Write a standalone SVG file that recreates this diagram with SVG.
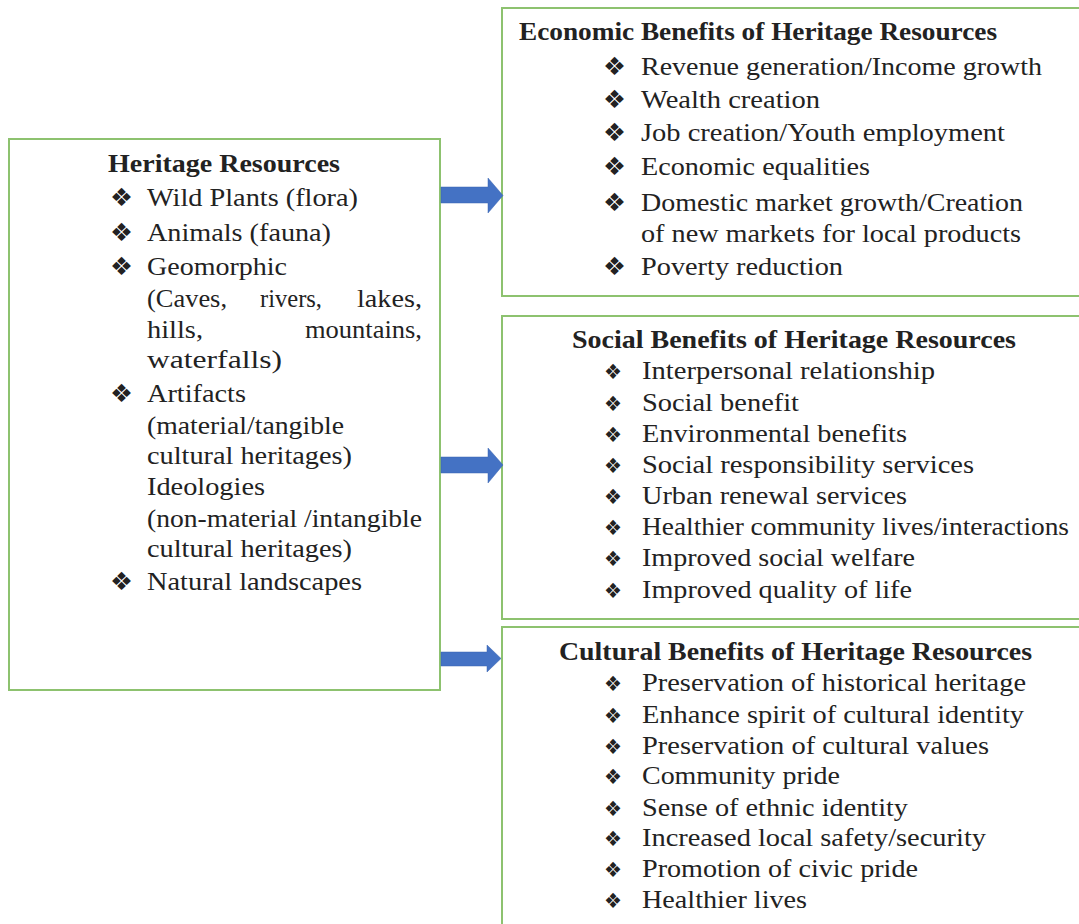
<svg xmlns="http://www.w3.org/2000/svg" width="1079" height="924" viewBox="0 0 1079 924">
<style>
.box{fill:#fff;stroke:#8DC26F;stroke-width:2}
.t{font-family:"Liberation Serif","Times New Roman",serif;font-size:25px;fill:#222}
.b{font-weight:bold}
.bl{font-family:"DejaVu Sans",sans-serif;font-size:25px;fill:#222}
.bs{font-family:"DejaVu Sans",sans-serif;font-size:21px;fill:#222}
.arr{fill:#4472C4;stroke:#3A64B0;stroke-width:0.5}
</style>
<rect width="1079" height="924" fill="#fff"/>
<g id="heritage-resources">
<rect class="box" x="9" y="139" width="431" height="551"/>
<text class="t b" x="108" y="172" textLength="232" lengthAdjust="spacingAndGlyphs">Heritage Resources</text>
<text class="bl" x="110" y="206" textLength="23" lengthAdjust="spacingAndGlyphs">❖</text>
<text class="t" x="147" y="206" textLength="211" lengthAdjust="spacingAndGlyphs">Wild Plants (flora)</text>
<text class="bl" x="110" y="241" textLength="23" lengthAdjust="spacingAndGlyphs">❖</text>
<text class="t" x="147" y="241" textLength="184" lengthAdjust="spacingAndGlyphs">Animals (fauna)</text>
<text class="bl" x="110" y="275" textLength="23" lengthAdjust="spacingAndGlyphs">❖</text>
<text class="t" x="147" y="275" textLength="140" lengthAdjust="spacingAndGlyphs">Geomorphic</text>
<text class="t" x="147" y="307" textLength="80" lengthAdjust="spacingAndGlyphs">(Caves,</text>
<text class="t" x="260" y="307" textLength="62" lengthAdjust="spacingAndGlyphs">rivers,</text>
<text class="t" x="357" y="307" textLength="65" lengthAdjust="spacingAndGlyphs">lakes,</text>
<text class="t" x="147" y="338" textLength="56" lengthAdjust="spacingAndGlyphs">hills,</text>
<text class="t" x="305" y="338" textLength="117" lengthAdjust="spacingAndGlyphs">mountains,</text>
<text class="t" x="147" y="368" textLength="135" lengthAdjust="spacingAndGlyphs">waterfalls)</text>
<text class="bl" x="110" y="402" textLength="23" lengthAdjust="spacingAndGlyphs">❖</text>
<text class="t" x="147" y="402" textLength="99" lengthAdjust="spacingAndGlyphs">Artifacts</text>
<text class="t" x="147" y="434" textLength="197" lengthAdjust="spacingAndGlyphs">(material/tangible</text>
<text class="t" x="147" y="464" textLength="205" lengthAdjust="spacingAndGlyphs">cultural heritages)</text>
<text class="t" x="147" y="495" textLength="118" lengthAdjust="spacingAndGlyphs">Ideologies</text>
<text class="t" x="147" y="527" textLength="275" lengthAdjust="spacingAndGlyphs">(non-material /intangible</text>
<text class="t" x="147" y="557" textLength="205" lengthAdjust="spacingAndGlyphs">cultural heritages)</text>
<text class="bl" x="110" y="590" textLength="23" lengthAdjust="spacingAndGlyphs">❖</text>
<text class="t" x="147" y="590" textLength="215" lengthAdjust="spacingAndGlyphs">Natural landscapes</text>
</g>
<g id="economic-benefits">
<rect class="box" x="502" y="8" width="600" height="288"/>
<text class="t b" x="519" y="40" textLength="478" lengthAdjust="spacingAndGlyphs">Economic Benefits of Heritage Resources</text>
<text class="bl" x="603" y="75" textLength="23" lengthAdjust="spacingAndGlyphs">❖</text>
<text class="t" x="641" y="75" textLength="401" lengthAdjust="spacingAndGlyphs">Revenue generation/Income growth</text>
<text class="bl" x="603" y="108" textLength="23" lengthAdjust="spacingAndGlyphs">❖</text>
<text class="t" x="641" y="108" textLength="179" lengthAdjust="spacingAndGlyphs">Wealth creation</text>
<text class="bl" x="603" y="141" textLength="23" lengthAdjust="spacingAndGlyphs">❖</text>
<text class="t" x="641" y="141" textLength="364" lengthAdjust="spacingAndGlyphs">Job creation/Youth employment</text>
<text class="bl" x="603" y="175" textLength="23" lengthAdjust="spacingAndGlyphs">❖</text>
<text class="t" x="641" y="175" textLength="229" lengthAdjust="spacingAndGlyphs">Economic equalities</text>
<text class="bl" x="603" y="211" textLength="23" lengthAdjust="spacingAndGlyphs">❖</text>
<text class="t" x="641" y="211" textLength="382" lengthAdjust="spacingAndGlyphs">Domestic market growth/Creation</text>
<text class="t" x="641" y="242" textLength="380" lengthAdjust="spacingAndGlyphs">of new markets for local products</text>
<text class="bl" x="603" y="275" textLength="23" lengthAdjust="spacingAndGlyphs">❖</text>
<text class="t" x="641" y="275" textLength="202" lengthAdjust="spacingAndGlyphs">Poverty reduction</text>
</g>
<g id="social-benefits">
<rect class="box" x="502" y="316" width="600" height="303"/>
<text class="t b" x="572" y="348" textLength="444" lengthAdjust="spacingAndGlyphs">Social Benefits of Heritage Resources</text>
<text class="bs" x="604" y="379" textLength="18" lengthAdjust="spacingAndGlyphs">❖</text>
<text class="t" x="642" y="379" textLength="293" lengthAdjust="spacingAndGlyphs">Interpersonal relationship</text>
<text class="bs" x="604" y="411" textLength="18" lengthAdjust="spacingAndGlyphs">❖</text>
<text class="t" x="642" y="411" textLength="157" lengthAdjust="spacingAndGlyphs">Social benefit</text>
<text class="bs" x="604" y="442" textLength="18" lengthAdjust="spacingAndGlyphs">❖</text>
<text class="t" x="642" y="442" textLength="265" lengthAdjust="spacingAndGlyphs">Environmental benefits</text>
<text class="bs" x="604" y="473" textLength="18" lengthAdjust="spacingAndGlyphs">❖</text>
<text class="t" x="642" y="473" textLength="332" lengthAdjust="spacingAndGlyphs">Social responsibility services</text>
<text class="bs" x="604" y="504" textLength="18" lengthAdjust="spacingAndGlyphs">❖</text>
<text class="t" x="642" y="504" textLength="265" lengthAdjust="spacingAndGlyphs">Urban renewal services</text>
<text class="bs" x="604" y="535" textLength="18" lengthAdjust="spacingAndGlyphs">❖</text>
<text class="t" x="642" y="535" textLength="427" lengthAdjust="spacingAndGlyphs">Healthier community lives/interactions</text>
<text class="bs" x="604" y="566" textLength="18" lengthAdjust="spacingAndGlyphs">❖</text>
<text class="t" x="642" y="566" textLength="273" lengthAdjust="spacingAndGlyphs">Improved social welfare</text>
<text class="bs" x="604" y="598" textLength="18" lengthAdjust="spacingAndGlyphs">❖</text>
<text class="t" x="642" y="598" textLength="270" lengthAdjust="spacingAndGlyphs">Improved quality of life</text>
</g>
<g id="cultural-benefits">
<rect class="box" x="502" y="627" width="600" height="320"/>
<text class="t b" x="559" y="660" textLength="473" lengthAdjust="spacingAndGlyphs">Cultural Benefits of Heritage Resources</text>
<text class="bs" x="604" y="691" textLength="18" lengthAdjust="spacingAndGlyphs">❖</text>
<text class="t" x="642" y="691" textLength="384" lengthAdjust="spacingAndGlyphs">Preservation of historical heritage</text>
<text class="bs" x="604" y="723" textLength="18" lengthAdjust="spacingAndGlyphs">❖</text>
<text class="t" x="642" y="723" textLength="382" lengthAdjust="spacingAndGlyphs">Enhance spirit of cultural identity</text>
<text class="bs" x="604" y="754" textLength="18" lengthAdjust="spacingAndGlyphs">❖</text>
<text class="t" x="642" y="754" textLength="347" lengthAdjust="spacingAndGlyphs">Preservation of cultural values</text>
<text class="bs" x="604" y="784" textLength="18" lengthAdjust="spacingAndGlyphs">❖</text>
<text class="t" x="642" y="784" textLength="198" lengthAdjust="spacingAndGlyphs">Community pride</text>
<text class="bs" x="604" y="816" textLength="18" lengthAdjust="spacingAndGlyphs">❖</text>
<text class="t" x="642" y="816" textLength="266" lengthAdjust="spacingAndGlyphs">Sense of ethnic identity</text>
<text class="bs" x="604" y="846" textLength="18" lengthAdjust="spacingAndGlyphs">❖</text>
<text class="t" x="642" y="846" textLength="344" lengthAdjust="spacingAndGlyphs">Increased local safety/security</text>
<text class="bs" x="604" y="877" textLength="18" lengthAdjust="spacingAndGlyphs">❖</text>
<text class="t" x="642" y="877" textLength="276" lengthAdjust="spacingAndGlyphs">Promotion of civic pride</text>
<text class="bs" x="604" y="908" textLength="18" lengthAdjust="spacingAndGlyphs">❖</text>
<text class="t" x="642" y="908" textLength="165" lengthAdjust="spacingAndGlyphs">Healthier lives</text>
</g>
<g id="connectors">
<polygon class="arr" points="441,187 488,187 488,178 503,195.5 488,213 488,203 441,203"/>
<polygon class="arr" points="441,457 488,457 488,448 503,465 488,483 488,473 441,473"/>
<polygon class="arr" points="441,652 487,652 487,645 501,658.5 487,672 487,666 441,666"/>
</g>
</svg>
